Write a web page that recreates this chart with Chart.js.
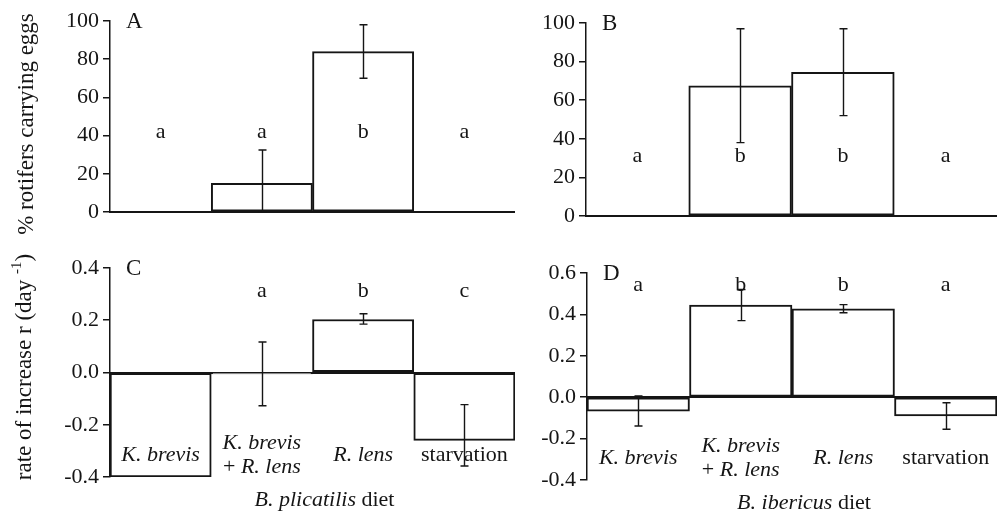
<!DOCTYPE html>
<html>
<head>
<meta charset="utf-8">
<title>Rotifer diets</title>
<script src="https://cdn.jsdelivr.net/npm/chart.js@4.4.1/dist/chart.umd.min.js"></script>
<style>
  body { margin: 0; background: #fff; }
  #fig { position: relative; width: 997px; height: 513px; }
  .panel { position: absolute; }
</style>
</head>
<body>
<div id="fig">
  <div class="panel" style="left:0;top:0;width:515px;height:250px"><canvas id="chartA"></canvas></div>
  <div class="panel" style="left:515px;top:0;width:482px;height:250px"><canvas id="chartB"></canvas></div>
  <div class="panel" style="left:0;top:250px;width:515px;height:263px"><canvas id="chartC"></canvas></div>
  <div class="panel" style="left:515px;top:250px;width:482px;height:263px"><canvas id="chartD"></canvas></div>
</div>
<script>
const diets = ['K. brevis', 'K. brevis + R. lens', 'R. lens', 'starvation'];

// % rotifers carrying eggs
const eggsPlicatilis = [0, 15, 84, 0];
const eggsPlicatilisLow = [null, 0, 70, null];
const eggsPlicatilisHigh = [null, 32.5, 98, null];
const eggsPlicatilisGroups = ['a', 'a', 'b', 'a'];

const eggsIbericus = [0, 67.5, 74.5, 0];
const eggsIbericusLow = [null, 38, 52, null];
const eggsIbericusHigh = [null, 97, 97, null];
const eggsIbericusGroups = ['a', 'b', 'b', 'a'];

// rate of increase r (day-1)
const rPlicatilis = [-0.4, -0.005, 0.203, -0.26];
const rPlicatilisLow = [null, -0.127, 0.185, -0.358];
const rPlicatilisHigh = [null, 0.117, 0.225, -0.123];
const rPlicatilisGroups = ['', 'a', 'b', 'c'];

const rIbericus = [-0.067, 0.445, 0.427, -0.09];
const rIbericusLow = [-0.139, 0.37, 0.408, -0.155];
const rIbericusHigh = [0.006, 0.52, 0.447, -0.027];
const rIbericusGroups = ['a', 'b', 'b', 'a'];

// tick labels
const eggTicks = [0, 20, 40, 60, 80, 100];
const rTicksC = [-0.4, -0.2, 0, 0.2, 0.4];
const rTicksD = [-0.4, -0.2, 0, 0.2, 0.4, 0.6];

const ink = '#151515';
const serif = 'Liberation Serif';
const textSize = 22;
Chart.defaults.font.family = serif;
Chart.defaults.font.size = textSize;
Chart.defaults.color = ink;

// species names like "K. brevis" are set in italics
const isTaxon = s => /^[A-Z]\. /.test(s);

function fontOf(italic, size) {
  return (italic ? 'italic ' : '') + (size || textSize) + 'px "' + serif + '"';
}

// draw [text, italic] pieces centred on x
function drawParts(ctx, parts, x, y, size) {
  let w = 0;
  parts.forEach(p => { ctx.font = fontOf(p[1], size); w += ctx.measureText(p[0]).width; });
  let cx = x - w / 2;
  ctx.textAlign = 'left';
  parts.forEach(p => {
    ctx.font = fontOf(p[1], size);
    ctx.fillText(p[0], cx, y);
    cx += ctx.measureText(p[0]).width;
  });
}

function labelLines(label) {
  return label.split(' + ').map((line, i) => {
    if (i > 0) return [['+ ', false], [line, isTaxon(line)]];
    return [[line, isTaxon(line)]];
  });
}

function titleParts(t) {
  const m = t.match(/^([A-Z]\. \S+)(.*)$/);
  return m ? [[m[1], true], [m[2], false]] : [[t, false]];
}

const extras = {
  id: 'panelExtras',
  afterDatasetsDraw(chart, args, cfg) {
    const ctx = chart.ctx;
    const area = chart.chartArea;
    const x = chart.scales.x, y = chart.scales.y;
    ctx.save();
    ctx.fillStyle = ink;
    ctx.strokeStyle = ink;
    ctx.textBaseline = 'middle';

    // error bars
    ctx.lineWidth = 1.4;
    cfg.low.forEach((lo, i) => {
      const hi = cfg.high[i];
      if (lo === null || hi === null) return;
      const px = Math.round(x.getPixelForValue(i)) + 0.5;
      const y1 = y.getPixelForValue(lo), y2 = y.getPixelForValue(hi);
      ctx.beginPath();
      ctx.moveTo(px, y1); ctx.lineTo(px, y2);
      ctx.moveTo(px - 4, y1); ctx.lineTo(px + 4, y1);
      ctx.moveTo(px - 4, y2); ctx.lineTo(px + 4, y2);
      ctx.stroke();
    });

    // significance letters
    ctx.textAlign = 'center';
    ctx.font = fontOf(false, textSize);
    cfg.groups.forEach((g, i) => {
      if (g) ctx.fillText(g, x.getPixelForValue(i), y.getPixelForValue(cfg.groupY));
    });

    // panel tag
    ctx.textAlign = 'left';
    ctx.font = fontOf(false, 23);
    ctx.fillText(cfg.tag, area.left + 16, area.top + 1);

    // diet labels under the zero line
    if (cfg.showLabels) {
      const base = area.bottom - 22;
      chart.data.labels.forEach((lab, i) => {
        const lines = labelLines(lab);
        const cx = x.getPixelForValue(i);
        lines.forEach((parts, k) => {
          const ly = base + (k - (lines.length - 1) / 2) * 24;
          drawParts(ctx, parts, cx, ly, textSize);
        });
      });
    }

    if (cfg.xTitle) {
      drawParts(ctx, titleParts(cfg.xTitle), (area.left + area.right) / 2 + 12, area.bottom + 23, textSize);
    }

    // rotated y title, middle piece is a superscript
    if (cfg.yTitle) {
      const t = cfg.yTitle;
      ctx.translate(cfg.yTitleAt[0], cfg.yTitleAt[1]);
      ctx.rotate(-Math.PI / 2);
      const main = fontOf(false, 23), small = fontOf(false, 15);
      ctx.font = main;
      const w0 = ctx.measureText(t[0]).width;
      const w2 = t[2] ? ctx.measureText(t[2]).width : 0;
      ctx.font = small;
      const w1 = t[1] ? ctx.measureText(t[1]).width : 0;
      let cx = -(w0 + w1 + w2) / 2;
      ctx.textAlign = 'left';
      ctx.font = main;
      ctx.fillText(t[0], cx, 0);
      cx += w0;
      if (t[1]) {
        ctx.font = small;
        ctx.fillText(t[1], cx, -8);
        cx += w1;
      }
      if (t[2]) {
        ctx.font = main;
        ctx.fillText(t[2], cx, 0);
      }
    }
    ctx.restore();
  }
};

function makePanel(id, values, ticks, fmt, axisWidth, padding, cfg) {
  return new Chart(document.getElementById(id), {
    type: 'bar',
    data: {
      labels: diets,
      datasets: [{
        data: values,
        backgroundColor: '#fff',
        borderColor: ink,
        borderWidth: 2,
        borderSkipped: false,
        categoryPercentage: 1,
        barPercentage: 1
      }]
    },
    options: {
      responsive: true,
      maintainAspectRatio: false,
      animation: false,
      layout: { padding: padding },
      plugins: {
        legend: { display: false },
        tooltip: { enabled: false },
        panelExtras: cfg
      },
      scales: {
        x: {
          position: { y: 0 },
          grid: { display: false },
          ticks: { display: false },
          border: { color: ink, width: 2 }
        },
        y: {
          min: ticks[0],
          max: ticks[ticks.length - 1],
          afterBuildTicks: s => { s.ticks = ticks.map(v => ({ value: v })); },
          afterFit: s => { s.width = axisWidth; },
          ticks: { callback: v => fmt(v), padding: 4, color: ink, font: { size: textSize } },
          grid: { drawOnChartArea: false, color: ink, tickLength: 7, lineWidth: 1.5 },
          border: { color: ink, width: 1.5 }
        }
      }
    },
    plugins: [extras]
  });
}

const whole = v => String(v);
const oneDec = v => v.toFixed(1);

makePanel('chartA', eggsPlicatilis, eggTicks, whole, 110,
  { left: 0, top: 21, right: 0, bottom: 38 },
  { tag: 'A', low: eggsPlicatilisLow, high: eggsPlicatilisHigh, groups: eggsPlicatilisGroups, groupY: 42,
    yTitle: ['% rotifers carrying eggs'], yTitleAt: [27, 124] });

makePanel('chartB', eggsIbericus, eggTicks, whole, 71,
  { left: 0, top: 23, right: 0, bottom: 34 },
  { tag: 'B', low: eggsIbericusLow, high: eggsIbericusHigh, groups: eggsIbericusGroups, groupY: 31 });

makePanel('chartC', rPlicatilis, rTicksC, oneDec, 110,
  { left: 0, top: 18, right: 0, bottom: 36 },
  { tag: 'C', low: rPlicatilisLow, high: rPlicatilisHigh, groups: rPlicatilisGroups, groupY: 0.31,
    showLabels: true, xTitle: 'B. plicatilis diet',
    yTitle: ['rate of increase r (day ', '-1', ')'], yTitleAt: [25, 117] });

makePanel('chartD', rIbericus, rTicksD, oneDec, 72,
  { left: 0, top: 23, right: 0, bottom: 33 },
  { tag: 'D', low: rIbericusLow, high: rIbericusHigh, groups: rIbericusGroups, groupY: 0.54,
    showLabels: true, xTitle: 'B. ibericus diet' });
</script>
</body>
</html>
